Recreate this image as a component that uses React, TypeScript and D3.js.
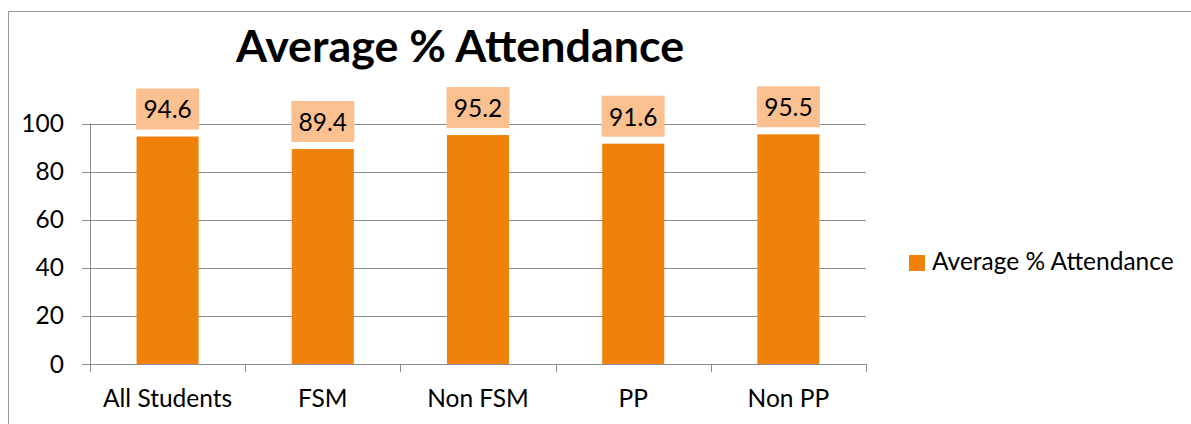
import React from "react";
import * as d3 from "d3";

const categories = ["All Students", "FSM", "Non FSM", "PP", "Non PP"];
const attendance = [94.6, 89.4, 95.2, 91.6, 95.5];
const yTicks = [0, 20, 40, 60, 80, 100];
const seriesName = "Average % Attendance";

const FONT = "Lato, 'Open Sans', sans-serif";

export default function App() {
  const width = 1191;
  const height = 424;
  const plot = { left: 90, right: 866, top: 123.5, bottom: 364 };

  const x = d3
    .scaleBand()
    .domain(categories)
    .range([plot.left, plot.right])
    .paddingInner(0.6)
    .paddingOuter(0.3);

  const y = d3.scaleLinear().domain([0, 100]).range([plot.bottom, plot.top]);

  const step = x.step();
  const boundaries = d3.range(categories.length + 1).map((i) => plot.left + i * step);

  return (
    <svg
      width={width}
      height={height}
      style={{ position: "absolute", left: 0, top: 0, background: "#fff" }}
    >
      {/* chart border */}
      <rect x={8.5} y={11.5} width={1300} height={500} fill="none" stroke="#999" />

      {/* title */}
      <text
        x={460}
        y={62}
        textAnchor="middle"
        fontFamily={FONT}
        fontWeight="bold"
        fontSize={44.8}
        fill="#000"
      >
        {seriesName}
      </text>

      {/* gridlines */}
      {yTicks.map((t) => (
        <line
          key={"g" + t}
          x1={plot.left - 8}
          x2={plot.right}
          y1={Math.round(y(t)) + 0.5}
          y2={Math.round(y(t)) + 0.5}
          stroke="#8c8c8c"
        />
      ))}

      {/* y tick labels */}
      {yTicks.map((t) => (
        <text
          key={"yl" + t}
          x={64}
          y={y(t) + 8.5}
          textAnchor="end"
          fontFamily={FONT}
          fontSize={24.5}
          fill="#000"
        >
          {t}
        </text>
      ))}

      {/* y axis line */}
      <line x1={plot.left + 0.5} x2={plot.left + 0.5} y1={plot.top} y2={plot.bottom + 8} stroke="#8c8c8c" />

      {/* x category ticks */}
      {boundaries.map((b, i) => (
        <line
          key={"xt" + i}
          x1={Math.round(b) + 0.5}
          x2={Math.round(b) + 0.5}
          y1={plot.bottom}
          y2={plot.bottom + 8}
          stroke="#8c8c8c"
        />
      ))}

      {/* bars */}
      {categories.map((c, i) => (
        <rect
          key={"b" + c}
          x={x(c)}
          y={y(attendance[i])}
          width={x.bandwidth()}
          height={y(0) - y(attendance[i])}
          fill="#f0820c"
        />
      ))}

      {/* data labels */}
      {categories.map((c, i) => {
        const cx = (x(c) as number) + x.bandwidth() / 2;
        const top = y(attendance[i]);
        return (
          <g key={"l" + c}>
            <rect x={cx - 31.5} y={top - 48} width={63} height={41} fill="#fac090" />
            <text
              x={cx}
              y={top - 18}
              textAnchor="middle"
              fontFamily={FONT}
              fontSize={24.5}
              fill="#000"
            >
              {attendance[i].toFixed(1)}
            </text>
          </g>
        );
      })}

      {/* x labels */}
      {categories.map((c) => (
        <text
          key={"xl" + c}
          x={(x(c) as number) + x.bandwidth() / 2}
          y={407}
          textAnchor="middle"
          fontFamily={FONT}
          fontSize={24.5}
          fill="#000"
        >
          {c}
        </text>
      ))}

      {/* legend */}
      <rect x={909} y={255} width={16} height={16} fill="#f0820c" />
      <text x={932} y={270} fontFamily={FONT} fontSize={24.5} fill="#000">
        {seriesName}
      </text>
    </svg>
  );
}
